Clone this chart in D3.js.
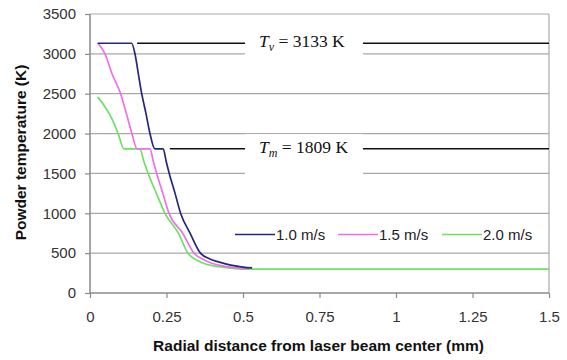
<!DOCTYPE html>
<html>
<head>
<meta charset="utf-8">
<script src="https://cdn.jsdelivr.net/npm/d3@7"></script>
<style>
  html, body { margin: 0; padding: 0; background: #fff; }
  svg { display: block; }
</style>
</head>
<body>
<svg id="chart" width="567" height="360"></svg>
<script>
// ---- data ----
const seriesNames = ["1.0 m/s", "1.5 m/s", "2.0 m/s"];
const seriesColors = ["#25287a", "#ee6fe8", "#6ee064"];

const distBlue = [0.025, 0.136, 0.147, 0.158, 0.169, 0.183, 0.196, 0.212, 0.239, 0.249, 0.259, 0.278, 0.296, 0.327, 0.361, 0.39, 0.42, 0.46, 0.50, 0.53];
const tempBlue = [3133, 3133, 3000, 2750, 2500, 2250, 2000, 1809, 1809, 1650, 1500, 1250, 1000, 750, 500, 430, 390, 350, 325, 315];

const distPink = [0.025, 0.037, 0.049, 0.072, 0.100, 0.119, 0.137, 0.154, 0.196, 0.207, 0.218, 0.238, 0.258, 0.303, 0.340, 0.37, 0.40, 0.44, 0.48, 0.52];
const tempPink = [3133, 3080, 3000, 2750, 2500, 2250, 2000, 1809, 1809, 1650, 1500, 1250, 1000, 750, 500, 420, 370, 335, 315, 305];

const distGreen = [0.025, 0.049, 0.071, 0.092, 0.111, 0.163, 0.176, 0.190, 0.217, 0.245, 0.289, 0.320, 0.35, 0.38, 0.42, 0.46, 0.50, 1.5];
const tempGreen = [2460, 2337, 2190, 2000, 1809, 1809, 1650, 1500, 1250, 1000, 750, 500, 410, 360, 330, 312, 300, 300];

const xTicks = [0, 0.25, 0.5, 0.75, 1, 1.25, 1.5];
const xTickLabels = ["0", "0.25", "0.5", "0.75", "1", "1.25", "1.5"];
const yTicks = [0, 500, 1000, 1500, 2000, 2500, 3000, 3500];

const refTemps = [3133, 1809];
const refStarts = [0.154, 0.261];
const refSymbols = ["v", "m"];

// ---- layout ----
const svg = d3.select("#chart");
const pLeft = 90, pRight = 549, pTop = 14, pBottom = 293;
const x = d3.scaleLinear().domain([0, 1.5]).range([pLeft, pRight]);
const y = d3.scaleLinear().domain([0, 3500]).range([pBottom, pTop]);

const gridColor = "#a9a9a9";
const axisColor = "#8a8a8a";

// gridlines
svg.append("g").selectAll("line").data(yTicks.filter(d => d > 0)).join("line")
  .attr("x1", pLeft).attr("x2", pRight)
  .attr("y1", d => y(d)).attr("y2", d => y(d))
  .attr("stroke", gridColor).attr("stroke-width", 1.2);

// right border
svg.append("line").attr("x1", pRight).attr("x2", pRight).attr("y1", pTop).attr("y2", pBottom)
  .attr("stroke", gridColor).attr("stroke-width", 1.2);

// axes
const yAxis = d3.axisLeft(y).tickValues(yTicks).tickFormat(d3.format("d")).tickSize(5).tickPadding(9);
const gy = svg.append("g").attr("transform", `translate(${pLeft},0)`).call(yAxis);
const xAxis = d3.axisBottom(x).tickValues(xTicks).tickFormat((d, i) => xTickLabels[i]).tickSize(5).tickPadding(13);
const gx = svg.append("g").attr("transform", `translate(0,${pBottom})`).call(xAxis);
[gx, gy].forEach(g => {
  g.select(".domain").attr("stroke", axisColor).attr("stroke-width", 1.5);
  g.selectAll(".tick line").attr("stroke", axisColor).attr("stroke-width", 1.2);
  g.selectAll("text").attr("font-family", "Liberation Sans, Arial, sans-serif")
    .attr("font-size", 15).attr("fill", "#333");
});
gx.select(".domain").attr("d", `M${pLeft},0H${pRight}`);
gy.select(".domain").attr("d", `M0,${pBottom}V${pTop}`);

// reference lines
refTemps.forEach((t, i) => {
  svg.append("line").attr("x1", x(refStarts[i])).attr("x2", pRight)
    .attr("y1", y(t)).attr("y2", y(t))
    .attr("stroke", "#111").attr("stroke-width", 1.6);
});
// label boxes and labels
const boxes = [[245, 28, 118, 29], [245, 134, 118, 42]];
boxes.forEach(b => {
  svg.append("rect").attr("x", b[0]).attr("y", b[1]).attr("width", b[2]).attr("height", b[3]).attr("fill", "#fff");
});
refTemps.forEach((t, i) => {
  const tx = svg.append("text").attr("x", 259).attr("y", y(t) + 4)
    .attr("font-family", "Liberation Serif, Times New Roman, serif")
    .attr("font-size", 17.5).attr("fill", "#111");
  tx.append("tspan").attr("font-style", "italic").text("T");
  tx.append("tspan").attr("font-style", "italic").attr("font-size", 12).attr("dy", 4).text(refSymbols[i]);
  tx.append("tspan").attr("dy", -4).text(" = " + t + " K");
});

// curves
const dists = [distBlue, distPink, distGreen];
const temps = [tempBlue, tempPink, tempGreen];
const line = d3.line().x(d => x(d[0])).y(d => y(d[1])).curve(d3.curveMonotoneX);
[2, 1, 0].forEach(i => {
  const pts = dists[i].map((d, j) => [d, temps[i][j]]);
  svg.append("path").attr("d", line(pts)).attr("fill", "none")
    .attr("stroke", seriesColors[i]).attr("stroke-width", 1.7).attr("stroke-linejoin", "round");
});

// legend
const legX = [235, 338, 442];
seriesNames.forEach((n, i) => {
  svg.append("line").attr("x1", legX[i]).attr("x2", legX[i] + 40).attr("y1", 234.5).attr("y2", 234.5)
    .attr("stroke", seriesColors[i]).attr("stroke-width", 1.7);
  svg.append("text").attr("x", legX[i] + 41).attr("y", 240)
    .attr("font-family", "Liberation Sans, Arial, sans-serif").attr("font-size", 15)
    .attr("fill", "#222").text(n);
});

// axis titles
svg.append("text").attr("x", (pLeft + pRight) / 2 - 1).attr("y", 351)
  .attr("text-anchor", "middle").attr("font-family", "Liberation Sans, Arial, sans-serif")
  .attr("font-weight", "bold").attr("font-size", 15.5).attr("fill", "#111")
  .text("Radial distance from laser beam center (mm)");
svg.append("text").attr("transform", `translate(26,${(62 + 243) / 2}) rotate(-90)`)
  .attr("text-anchor", "middle").attr("font-family", "Liberation Sans, Arial, sans-serif")
  .attr("font-weight", "bold").attr("font-size", 15.5).attr("fill", "#111")
  .text("Powder temperature (K)");
</script>
</body>
</html>
